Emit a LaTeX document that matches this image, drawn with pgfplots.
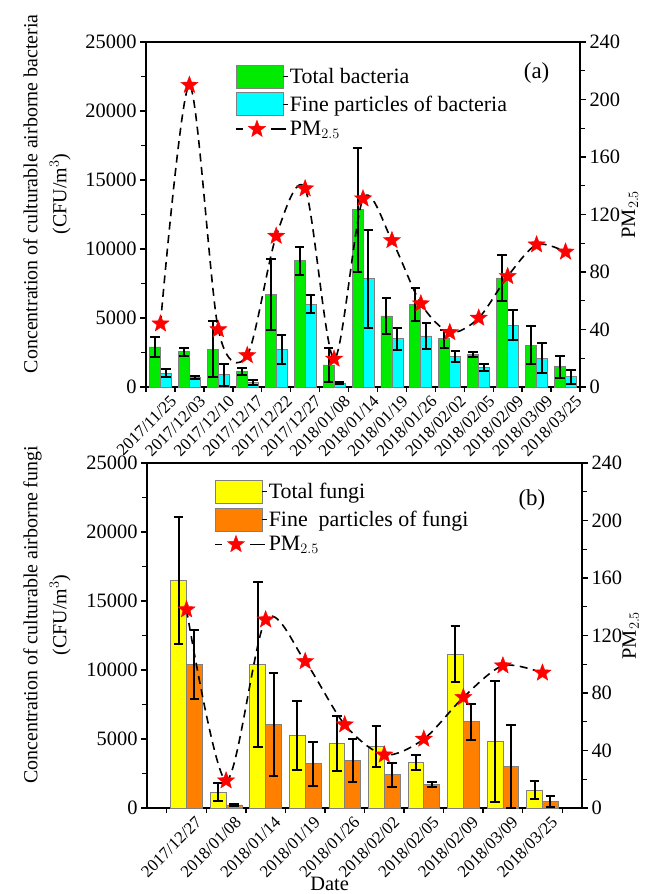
\documentclass[border=0pt]{standalone}
\usepackage{fontspec}
\setmainfont{Liberation Serif}
\usepackage{pgfplots}
\pgfplotsset{compat=1.18}
\definecolor{cgreen}{RGB}{0,235,0}
\definecolor{ccyan}{RGB}{0,255,255}
\definecolor{cyellow}{RGB}{255,255,0}
\definecolor{corange}{RGB}{255,128,0}
\pgfdeclareplotmark{fstar}{%
  \pgfpathmoveto{\pgfpointpolar{90}{\pgfplotmarksize}}%
  \pgfpathlineto{\pgfpointpolar{126}{0.42\pgfplotmarksize}}%
  \pgfpathlineto{\pgfpointpolar{162}{\pgfplotmarksize}}%
  \pgfpathlineto{\pgfpointpolar{198}{0.42\pgfplotmarksize}}%
  \pgfpathlineto{\pgfpointpolar{234}{\pgfplotmarksize}}%
  \pgfpathlineto{\pgfpointpolar{270}{0.42\pgfplotmarksize}}%
  \pgfpathlineto{\pgfpointpolar{306}{\pgfplotmarksize}}%
  \pgfpathlineto{\pgfpointpolar{342}{0.42\pgfplotmarksize}}%
  \pgfpathlineto{\pgfpointpolar{18}{\pgfplotmarksize}}%
  \pgfpathlineto{\pgfpointpolar{54}{0.42\pgfplotmarksize}}%
  \pgfpathclose
  \pgfusepathqfillstroke}
\pgfplotsset{
  base/.style={
    scale only axis, width=434bp, height=345bp,
    font=\fontsize{20.5}{24}\selectfont,
    /pgf/number format/assume math mode=true,
    /pgf/number format/.cd, fixed, 1000 sep={}, /pgfplots/.cd,
    scaled y ticks=false,
    axis line style={line width=1.6bp},
    every tick/.style={line width=1.4bp, black},
    tick align=outside, major tick length=6bp, minor tick length=5bp,
    clip=false,
  },
  errs/.style={
    error bars/.cd, y dir=both, y explicit,
    error bar style={line width=2bp, black, solid},
    error mark options={rotate=90, mark size=4.8bp, line width=2bp, black},
  },
  pmline/.style={black, line width=1.6bp, dash pattern=on 8bp off 5.5bp, smooth,
    mark=fstar, mark size=9bp, mark options={solid, fill=red, draw=red, line width=0.4bp}},
  patch/.style={legend image code/.code={\draw[#1, line width=0.8bp] (0bp,-11.5bp) rectangle (47bp,11.5bp);
      \path (47bp,0bp) -- (52bp,0bp);}},
  pmleg/.style={legend image code/.code={
      \draw[black, line width=1.6bp] (0bp,0bp)--(7bp,0bp) (35bp,0bp)--(42bp,0bp);
      \path[fill=red, draw=red, line width=0.4bp] plot[mark=fstar, mark size=9bp] coordinates {(21bp,0bp)};
      \path (42bp,0bp) -- (52bp,0bp);}},
  leg/.style={legend style={draw=none, fill=none, anchor=north west, legend cell align=left,
      font=\fontsize{22}{24}\selectfont,
      row sep=4bp, inner sep=0pt, nodes={inner sep=1bp},
      /tikz/every even column/.append style={column sep=10bp}}},
}
\begin{document}
\begin{tikzpicture}
\useasboundingbox (0,0) rectangle (652bp,894bp);
% ---------------- top panel ----------------
\begin{axis}[base, at={(146bp,507bp)}, anchor=south west,
  ybar, bar width=0.38,
  xmin=-0.5, xmax=14.5, ymin=0, ymax=25000,
  ytick={0,5000,...,25000}, minor ytick={2500,7500,...,22500},
  xtick={0,...,14}, minor xtick={-0.5,0.5,...,14.5},
  major x tick style={draw=none},
  xtick pos=left, ytick pos=left,
  xticklabels={2017/11/25,2017/12/03,2017/12/10,2017/12/17,2017/12/22,2017/12/27,2018/01/08,2018/01/14,2018/01/19,2018/01/26,2018/02/02,2018/02/05,2018/02/09,2018/03/09,2018/03/25},
  xticklabel style={xshift=9bp, rotate=45, anchor=north east, font=\fontsize{17}{20}\selectfont, inner sep=1bp},
  ylabel={Concentration of culturable airborne bacteria\\(CFU/m$^3$)},
  ylabel style={align=center, font=\fontsize{20}{29}\selectfont, at={(axis description cs:-0.228,0.56)}, anchor=center},
]
\addplot[bar shift=-0.19, fill=cgreen, draw=gray, line width=0.8bp, errs] coordinates {
(0,2900) +- (0,700) (1,2560) +- (0,280) (2,2750) +- (0,2000) (3,1100) +- (0,250)
(4,6700) +- (0,2600) (5,9150) +- (0,1000) (6,1600) +- (0,1250) (7,12850) +- (0,4500)
(8,5150) +- (0,1330) (9,6000) +- (0,1200) (10,3500) +- (0,640) (11,2370) +- (0,180)
(12,7900) +- (0,1650) (13,3040) +- (0,1350) (14,1470) +- (0,800)};
\addplot[bar shift=0.19, fill=ccyan, draw=gray, line width=0.8bp, errs] coordinates {
(0,1000) +- (0,300) (1,680) +- (0,100) (2,900) +- (0,800) (3,330) +- (0,200)
(4,2750) +- (0,1050) (5,6000) +- (0,650) (6,280) +- (0,80) (7,7850) +- (0,3550)
(8,3500) +- (0,800) (9,3700) +- (0,950) (10,2200) +- (0,380) (11,1430) +- (0,250)
(12,4470) +- (0,1100) (13,2080) +- (0,1100) (14,750) +- (0,500)};
\node[font=\fontsize{23}{24}\selectfont] at (axis description cs:0.9,0.91) {(a)};
\end{axis}
\begin{axis}[base, at={(146bp,507bp)}, anchor=south west,
  xmin=-0.5, xmax=14.5, ymin=0, ymax=240,
  axis y line*=right, axis x line=none,
  ytick={0,40,...,240}, minor ytick={20,60,...,220},
  ylabel={PM$_{2.5}$},
  ylabel style={at={(axis description cs:1.115,0.5)}, anchor=center},
  leg, legend style={at={(axis description cs:0.205,0.935)}},
]
\addlegendimage{patch={fill=cgreen, draw=gray}}
\addlegendentry{Total bacteria}
\addlegendimage{patch={fill=ccyan, draw=gray}}
\addlegendentry{Fine particles of bacteria}
\addplot[pmline, pmleg] coordinates {
(0,44) (1,210) (2,40) (3,22) (4,105) (5,138) (6,19.5) (7,131) (8,102) (9,58)
(10,38) (11,48) (12,77) (13,99) (14,94)};
\addlegendentry{PM$_{2.5}$}
\end{axis}
% ---------------- bottom panel ----------------
\begin{axis}[base, at={(147bp,86bp)}, anchor=south west, width=435bp,
  ybar, bar width=0.4,
  xmin=-1, xmax=10, ymin=0, ymax=25000,
  ytick={0,5000,...,25000}, minor ytick={2500,7500,...,22500},
  xtick={0,...,9}, minor xtick={-0.5,0.5,...,9.5},
  major x tick style={draw=none},
  xtick pos=left, ytick pos=left,
  xticklabels={2017/12/27,2018/01/08,2018/01/14,2018/01/19,2018/01/26,2018/02/02,2018/02/05,2018/02/09,2018/03/09,2018/03/25},
  xticklabel style={xshift=8bp, rotate=45, anchor=north east, font=\fontsize{17}{20}\selectfont, inner sep=1bp},
  ylabel={Concentration of culturable airborne fungi\\(CFU/m$^3$)},
  ylabel style={align=center, font=\fontsize{20}{29}\selectfont, at={(axis description cs:-0.23,0.56)}, anchor=center},
  xlabel={Date},
  xlabel style={at={(axis description cs:0.42,-0.238)}, anchor=base},
]
\addplot[bar shift=-0.2, fill=cyellow, draw=gray, line width=0.8bp, errs] coordinates {
(0,16500) +- (0,4600) (1,1140) +- (0,640) (2,10400) +- (0,6000) (3,5250) +- (0,2500)
(4,4650) +- (0,2000) (5,4450) +- (0,1500) (6,3300) +- (0,520) (7,11150) +- (0,2030)
(8,4800) +- (0,4400) (9,1300) +- (0,640)};
\addplot[bar shift=0.2, fill=corange, draw=gray, line width=0.8bp, errs] coordinates {
(0,10400) +- (0,2480) (1,220) +- (0,60) (2,6050) +- (0,3750) (3,3200) +- (0,1600)
(4,3450) +- (0,1530) (5,2400) +- (0,850) (6,1700) +- (0,180) (7,6250) +- (0,1300)
(8,3000) +- (0,3000) (9,460) +- (0,400)};
\node[font=\fontsize{23}{24}\selectfont] at (axis description cs:0.885,0.893) {(b)};
\end{axis}
\begin{axis}[base, at={(147bp,86bp)}, anchor=south west, width=435bp,
  xmin=-1, xmax=10, ymin=0, ymax=240,
  axis y line*=right, axis x line=none,
  ytick={0,40,...,240}, minor ytick={20,60,...,220},
  ylabel={PM$_{2.5}$},
  ylabel style={at={(axis description cs:1.112,0.5)}, anchor=center},
  leg, legend style={at={(axis description cs:0.154,0.952)}},
]
\addlegendimage{patch={fill=cyellow, draw=gray}}
\addlegendentry{Total fungi}
\addlegendimage{patch={fill=corange, draw=gray}}
\addlegendentry{Fine\ \ particles of fungi}
\addplot[pmline, pmleg] coordinates {
(0,138) (1,19) (2,131) (3,102) (4,58) (5,37) (6,48) (7,77) (8,99) (9,94)};
\addlegendentry{PM$_{2.5}$}
\end{axis}
\end{tikzpicture}
\end{document}
